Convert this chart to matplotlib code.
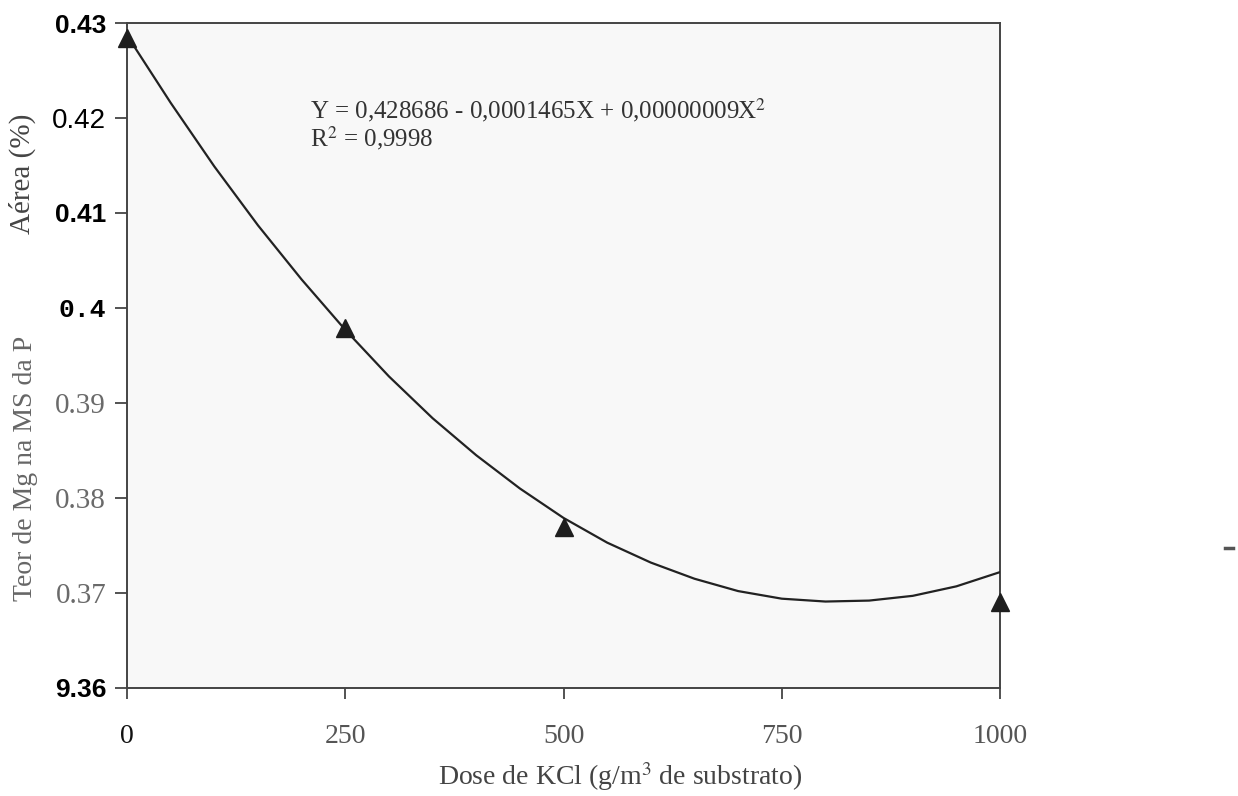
import numpy as np
import matplotlib
matplotlib.use("Agg")
import matplotlib.pyplot as plt
from matplotlib.lines import Line2D

plt.rcParams["mathtext.fontset"] = "stix"

# ── data ──────────────────────────────────────────────────
dose_obs = [0, 250, 500, 1000]
mg_obs = [0.4284, 0.3979, 0.3769, 0.3690]

# fitted curve, read at every 50 g/m3
dose_fit = [0, 50, 100, 150, 200, 250, 300, 350, 400, 450, 500,
            550, 600, 650, 700, 750, 800, 850, 900, 950, 1000]
mg_fit = [0.4287, 0.4216, 0.4149, 0.4087, 0.4030, 0.3977, 0.3928,
          0.3884, 0.3845, 0.3810, 0.3779, 0.3753, 0.3732, 0.3715,
          0.3702, 0.3694, 0.3691, 0.3692, 0.3697, 0.3707, 0.3722]

x_ticks = [0, 250, 500, 750, 1000]
x_ticklabels = ["0", "250", "500", "750", "1000"]
y_ticks = [0.36, 0.37, 0.38, 0.39, 0.40, 0.41, 0.42, 0.43]
y_ticklabels = ["9.36", "0.37", "0.38", "0.39", "0.4", "0.41", "0.42", "0.43"]

SERIF = "Liberation Serif"
SANS = "Liberation Sans"
MONO = "Liberation Mono"

fig = plt.figure(figsize=(12.38, 7.96), dpi=100)
ax = fig.add_axes([0.1026, 0.1357, 0.7052, 0.8354])
ax.set_facecolor("#f8f8f8")

ax.plot(dose_fit, mg_fit, color="#222222", lw=1.6, zorder=3)
ax.plot(dose_obs, mg_obs, ls="none", marker="^", ms=13,
        color="#1e1e1e", zorder=4, clip_on=False)

ax.set_xlim(0, 1000)
ax.set_ylim(0.36, 0.43)

for s in ax.spines.values():
    s.set_color("#444444")
    s.set_linewidth(1.4)

ax.set_xticks(x_ticks)
ax.set_xticklabels(x_ticklabels, family=SERIF, fontsize=20, color="#555555")
ax.tick_params(axis="x", direction="out", length=8, width=1.3,
               colors="#444444", pad=18)
for lab in ax.get_xticklabels():
    lab.set_color("#555555")
ax.get_xticklabels()[0].set_color("#111111")

ax.set_yticks(y_ticks)
ax.set_yticklabels(y_ticklabels)
ax.tick_params(axis="y", direction="out", length=9, width=1.3,
               colors="#444444", pad=6)

# the y labels come in a patchwork of fonts
label_styles = {
    "9.36": dict(family=SANS, weight="bold", size=19, color="#000000"),
    "0.37": dict(family=SERIF, weight="normal", size=21, color="#6a6a6a"),
    "0.38": dict(family=SERIF, weight="normal", size=21, color="#6a6a6a"),
    "0.39": dict(family=SERIF, weight="normal", size=21, color="#6a6a6a"),
    "0.4": dict(family=MONO, weight="bold", size=19, color="#000000"),
    "0.41": dict(family=SANS, weight="bold", size=19, color="#000000"),
    "0.42": dict(family=SANS, weight="normal", size=20, color="#000000"),
    "0.43": dict(family=SANS, weight="bold", size=19, color="#000000"),
}
for lab in ax.get_yticklabels():
    st = label_styles[lab.get_text()]
    lab.set_family(st["family"])
    lab.set_fontweight(st["weight"])
    lab.set_fontsize(st["size"])
    lab.set_color(st["color"])

ax.set_xlabel("Dose de KCl (g/m$^3$ de substrato)", family=SERIF,
              fontsize=20, color="#444444")
ax.xaxis.set_label_coords(0.565, -0.108)

# y axis title, split in two pieces as in the scan
fig.text(0.021, 0.412, "Teor de Mg na MS da P", rotation=90,
         family=SERIF, fontsize=20, color="#666666",
         ha="center", va="center")
fig.text(0.018, 0.782, "Aérea (%)", rotation=90,
         family=SERIF, fontsize=21, color="#444444",
         ha="center", va="center")

ax.text(0.21, 0.89,
        "Y = 0,428686 - 0,0001465X + 0,00000009X$^2$\nR$^2$ = 0,9998",
        transform=ax.transAxes, family=SERIF, fontsize=18,
        color="#333333", ha="left", va="top", linespacing=1.0)

# small speck on the right edge of the scan
fig.add_artist(Line2D([0.9895, 0.9960], [0.3115, 0.3115],
                      transform=fig.transFigure, color="#555555", lw=2.5))

fig.savefig("out.png", dpi=100, facecolor="white")
